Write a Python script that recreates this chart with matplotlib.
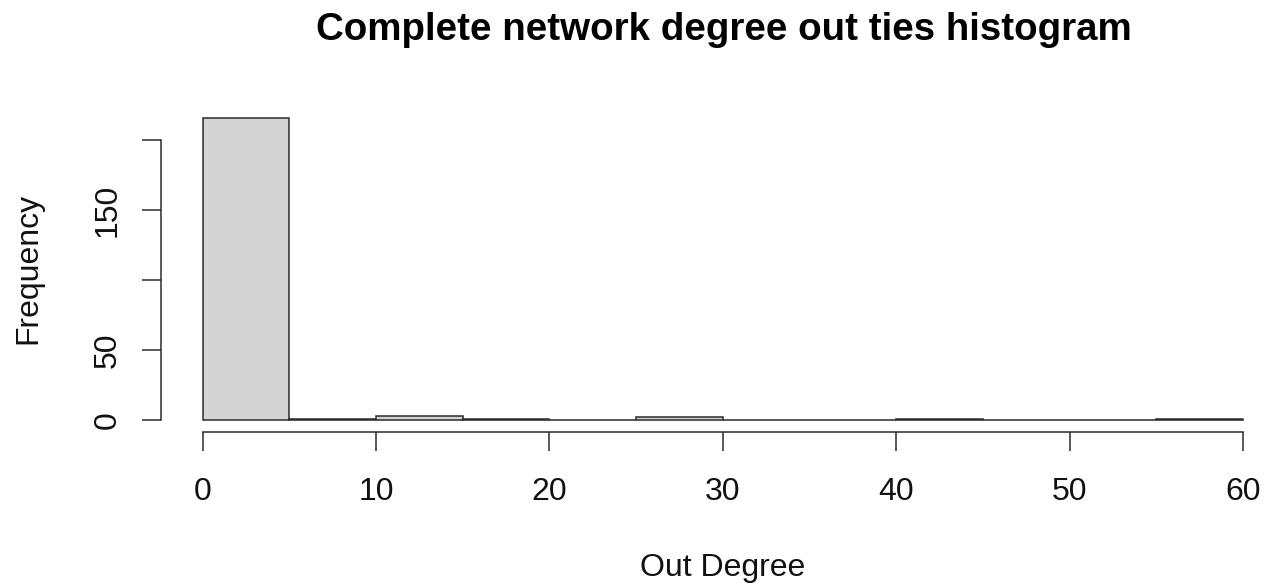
import matplotlib.pyplot as plt

plt.rcParams['font.family'] = ['Liberation Sans', 'DejaVu Sans']

# histogram bins (width 5) and counts
bin_edges = [0, 5, 10, 15, 20, 25, 30, 35, 40, 45, 50, 55, 60]
counts = [216, 1, 3, 1, 0, 2, 0, 0, 1, 0, 0, 1]
x_ticks = [0, 10, 20, 30, 40, 50, 60]
y_ticks = [0, 50, 100, 150, 200]
# R drops the labels that would overlap
y_labels = ['0', '50', '', '150', '']

W, H = 1275, 584
fig = plt.figure(figsize=(W / 100, H / 100), dpi=100)

# plot region in pixels (R style, 4% padding on both axes)
left_px, right_px, top_px, bottom_px = 161.0, 1284.6, 105.5, 432.1
ax = fig.add_axes([left_px / W, 1 - bottom_px / H,
                   (right_px - left_px) / W, (bottom_px - top_px) / H])

lefts = bin_edges[:-1]
widths = [b - a for a, b in zip(bin_edges[:-1], bin_edges[1:])]
ax.bar(lefts, counts, width=widths, align='edge', color='#d3d3d3',
       edgecolor='#2b2b2b', linewidth=1.1)

ax.set_xlim(-2.4, 62.4)
ax.set_ylim(-0.04 * 216, 216 * 1.04)

for s in ['top', 'right']:
    ax.spines[s].set_visible(False)
ax.spines['left'].set_bounds(0, 200)
ax.spines['bottom'].set_bounds(0, 60)
for s in ['left', 'bottom']:
    ax.spines[s].set_linewidth(1.1)
    ax.spines[s].set_color('#2b2b2b')

ax.set_xticks(x_ticks)
ax.set_yticks(y_ticks)
ax.set_yticklabels(y_labels)
ax.tick_params(axis='both', direction='out', length=13.5, width=1.1,
               color='#2b2b2b', labelsize=23, labelcolor='#111111')
ax.tick_params(axis='x', pad=19)
ax.tick_params(axis='y', pad=14)
for lab in ax.get_yticklabels():
    lab.set_rotation(90)
    lab.set_va('center')

fig.text(723 / W, 1 - 568 / H, 'Out Degree', ha='center', va='center',
         fontsize=23, color='#111111')
fig.text(28 / W, 1 - 268 / H, 'Frequency', ha='center', va='center',
         rotation=90, fontsize=23, color='#111111')
fig.text(724 / W, 1 - 30 / H, 'Complete network degree out ties histogram',
         ha='center', va='center', fontsize=27.7, fontweight='bold')

fig.savefig('out.png', dpi=100)
